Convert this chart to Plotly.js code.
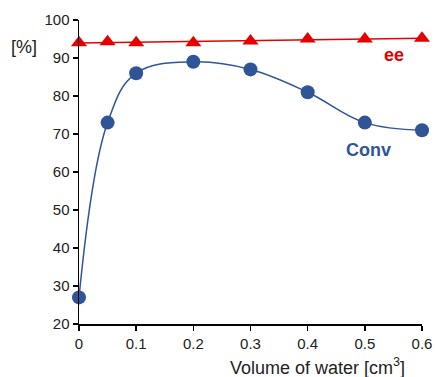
<!DOCTYPE html>
<html><head><meta charset="utf-8">
<script src="https://cdn.plot.ly/plotly-3.0.1.min.js"></script>
<style>body{margin:0;background:#fff}#c{width:435px;height:377px}</style>
</head><body><div id="c"></div>
<script>
const water = [0, 0.05, 0.1, 0.2, 0.3, 0.4, 0.5, 0.6];
const conv = [27, 73, 86, 89, 87, 81, 73, 71];
const ee = [94, 94.3, 94, 94, 94.5, 95, 95, 95.2];

// linear trendline for ee
const n = water.length;
const mx = water.reduce((a,b)=>a+b,0)/n, my = ee.reduce((a,b)=>a+b,0)/n;
let sxy=0, sxx=0;
for (let i=0;i<n;i++){sxy+=(water[i]-mx)*(ee[i]-my);sxx+=(water[i]-mx)**2;}
const slope=sxy/sxx, icpt=my-slope*mx;
const trendX=[water[0], water[n-1]];
const trendY=trendX.map(x=>icpt+slope*x);

const blue='#2F5597', red='#E60000';
const data=[
 {x:trendX,y:trendY,mode:'lines',line:{color:red,width:1.5},hoverinfo:'skip',cliponaxis:false},
 {x:water,y:ee,mode:'markers',marker:{symbol:'triangle-up',size:14,color:red},cliponaxis:false},
 {x:water,y:conv,mode:'lines+markers',line:{color:blue,width:1.5,shape:'spline',smoothing:1.1},
  marker:{symbol:'circle',size:14,color:blue},cliponaxis:false}
];
const font={family:'Liberation Sans, Arial, sans-serif',size:15,color:'#222'};
const pw=435-79-13, ph=377-20-53;
const layout={
 width:435,height:377,showlegend:false,
 margin:{l:79,r:13,t:20,b:53},
 paper_bgcolor:'#fff',plot_bgcolor:'#fff',font:font,
 xaxis:{range:[0,0.6],tickvals:[0,0.1,0.2,0.3,0.4,0.5,0.6],ticktext:['0','0.1','0.2','0.3','0.4','0.5','0.6'],
   showgrid:false,zeroline:false,showline:true,linecolor:'#000',linewidth:1.5,ticks:'outside',ticklen:5,tickcolor:'#000',tickwidth:1.5},
 yaxis:{range:[20,100],dtick:10,showgrid:false,zeroline:false,showline:true,linecolor:'#000',linewidth:1.5,
   ticks:'outside',ticklen:5,tickcolor:'#000',tickwidth:1.5},
 annotations:[
  {text:'Volume of water [cm<sup>3</sup>]',xref:'paper',yref:'paper',x:(317-79)/pw,xanchor:'center',y:-(366-324)/ph,yanchor:'middle',showarrow:false,font:{family:font.family,size:18,color:'#222'}},
  {text:'[%]',xref:'paper',yref:'paper',x:(24-79)/pw,xanchor:'center',y:(324-47)/ph,yanchor:'middle',showarrow:false,font:{family:font.family,size:18,color:'#222'}},
  {text:'<b>ee</b>',xref:'x',yref:'y',x:0.551,y:90.8,showarrow:false,font:{family:font.family,size:18,color:red}},
  {text:'<b>Conv</b>',xref:'x',yref:'y',x:0.507,y:65.8,showarrow:false,font:{family:font.family,size:18,color:blue}}
 ]
};
Plotly.newPlot('c',data,layout,{staticPlot:true});
</script></body></html>
